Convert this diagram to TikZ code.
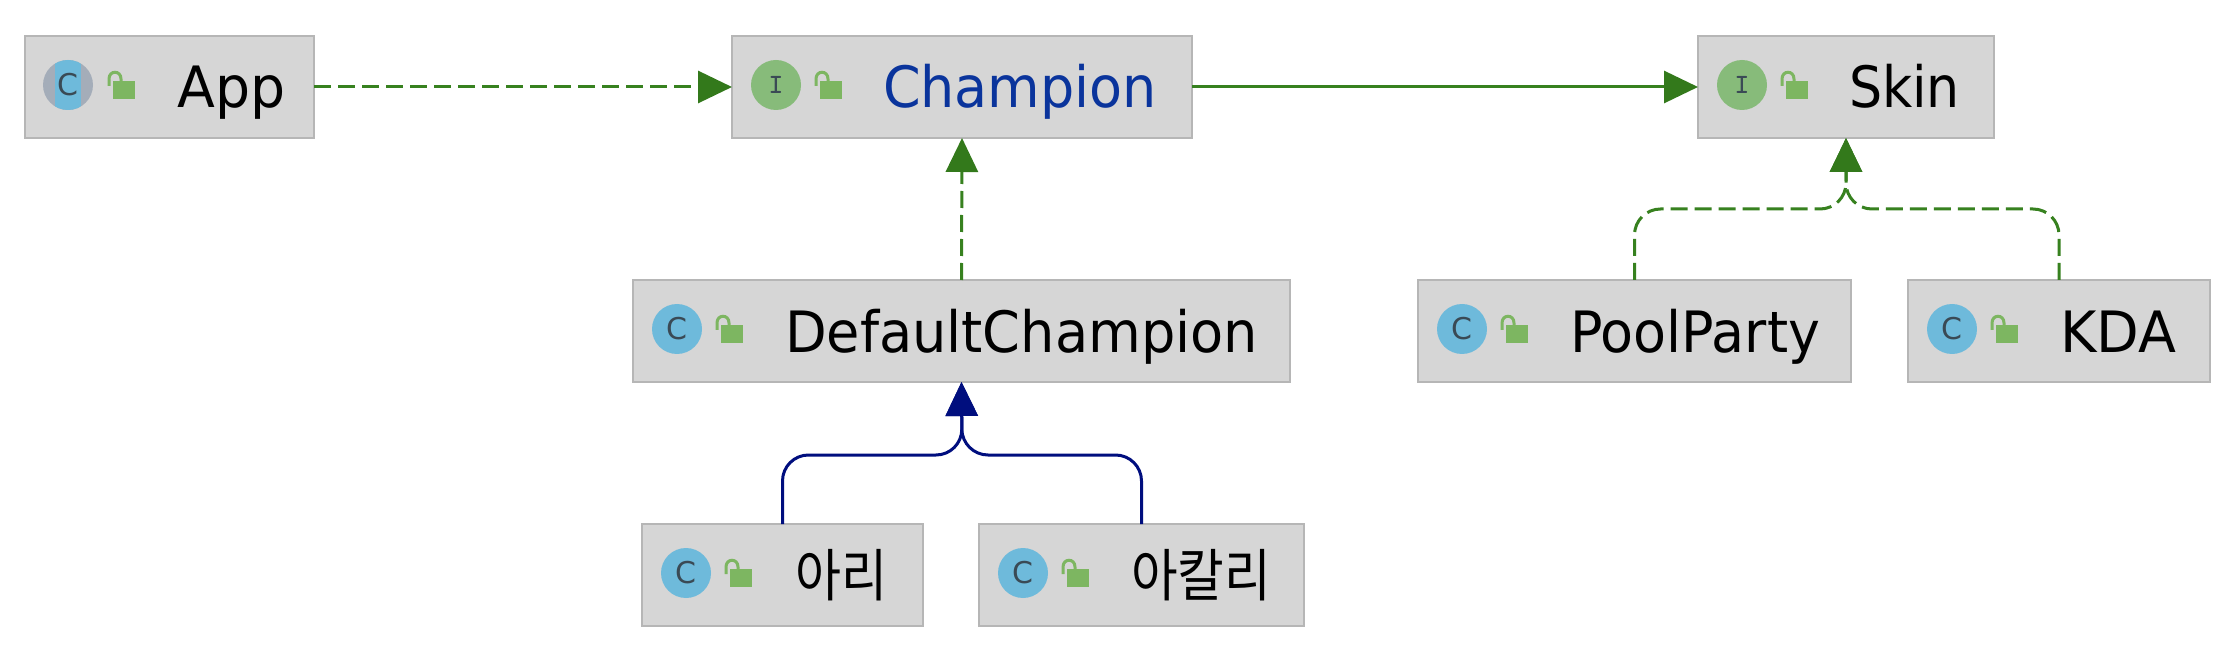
\documentclass[tikz,border=0pt]{standalone}
\usepackage{fontspec}
\setmainfont{DejaVu Sans}
\newfontfamily\krfont{Noto Sans CJK KR}
\usetikzlibrary{arrows.meta}
\definecolor{boxfill}{HTML}{D6D6D6}
\definecolor{boxline}{HTML}{B6B6B6}
\definecolor{greenline}{HTML}{37811F}
\definecolor{greentip}{HTML}{33791B}
\definecolor{bluetip}{HTML}{000E7E}
\definecolor{nameblue}{HTML}{0A349C}
\definecolor{classblue}{HTML}{6EBADB}
\definecolor{ifacegreen}{HTML}{87BB7A}
\definecolor{lockgreen}{HTML}{7DB661}
\definecolor{icongray}{HTML}{A4ADB9}
\definecolor{icontext}{HTML}{3A4A55}
\tikzset{
  umlbox/.style={draw=boxline,fill=boxfill,line width=1.4pt,inner sep=0pt,outer sep=0pt,
    anchor=north west,minimum height=51pt,text height=21pt,text depth=0pt,
    font=\fontsize{28.5}{30}\selectfont},
  iconbase/.style={circle,inner sep=0pt,minimum size=25pt,text=icontext},
  classicon/.style={iconbase,fill=classblue,font=\fontsize{15}{15}\selectfont},
  ifaceicon/.style={iconbase,fill=ifacegreen,font=\fontsize{14}{14}\ttfamily\bfseries},
  dep/.style={draw=greenline,line width=1.5pt,dash pattern=on 8.5pt off 3.5pt,
    -{Triangle[length=17pt,width=16pt,color=greentip]}},
  assoc/.style={draw=greenline,line width=1.5pt,
    -{Triangle[length=17pt,width=16pt,color=greentip]}},
  inherit/.style={draw=bluetip,line width=1.5pt,
    -{Triangle[length=17pt,width=16pt,color=bluetip]}},
}
% name, left, top, right, text start offset (pt), label
\newcommand{\umlnode}[6]{%
  \node[umlbox,minimum width={(#4-#2)*0.5pt}] (#1) at (#2,#3)
    {\makebox[\dimexpr(#4pt-#2pt)/2\relax][l]{\hspace*{#5pt}#6}};
}
\newcommand{\lockon}[1]{%
  \begin{scope}[shift={(#1.west)}]
    \fill[lockgreen] (88,-6) rectangle (110,12);
    \draw[lockgreen,line width=1.5pt] (84,-1) -- (84,-8) .. controls (84,-17) and (96,-17) .. (96,-8) -- (96,-5);
  \end{scope}%
}
\newcommand{\fit}[2]{\resizebox{#1pt}{\height}{#2}}
\begin{document}
\begin{tikzpicture}[x=0.5pt,y=-0.5pt]
\useasboundingbox[fill=white] (0,0) rectangle (2228,652);

\umlnode{app}{25}{36}{314}{76.5}{\fit{54}{App}}
\umlnode{champion}{732}{36}{1192}{75.5}{\fit{137}{\textcolor{nameblue}{Champion}}}
\umlnode{skin}{1698}{36}{1994}{75.5}{\fit{55.5}{Skin}}
\umlnode{defaultc}{633}{280}{1290}{76}{\fit{236.5}{DefaultChampion}}
\umlnode{poolparty}{1418}{280}{1851}{76}{\fit{125}{PoolParty}}
\umlnode{kda}{1908}{280}{2210}{76}{\fit{58}{KDA}}
\umlnode{ari}{642}{524}{923}{76.5}{\fit{46}{\krfont 아리}}
\umlnode{akali}{979}{524}{1304}{76}{\fit{70}{\krfont 아칼리}}

% icons
\node[iconbase,fill=icongray] (appring) at ([xshift=21.5pt,yshift=1pt]app.west) {};
\begin{scope}
  \clip (appring.center) circle (12.5pt);
  \fill[classblue] ([xshift=-6.5pt,yshift=-13pt]appring.center) rectangle ([xshift=6.5pt,yshift=13pt]appring.center);
\end{scope}
\node[text=icontext,font=\fontsize{15}{15}\selectfont] (appicon) at (appring) {C};
\node[ifaceicon] (championicon) at ([xshift=22pt,yshift=1pt]champion.west) {I};
\node[ifaceicon] (skinicon) at ([xshift=22pt,yshift=1pt]skin.west) {I};
\node[classicon] (defaulticon) at ([xshift=22pt,yshift=1pt]defaultc.west) {C};
\node[classicon] (poolicon) at ([xshift=22pt,yshift=1pt]poolparty.west) {C};
\node[classicon] (kdaicon) at ([xshift=22pt,yshift=1pt]kda.west) {C};
\node[classicon] (ariicon) at ([xshift=22pt,yshift=1pt]ari.west) {C};
\node[classicon] (akaliicon) at ([xshift=22pt,yshift=1pt]akali.west) {C};
\lockon{app}\lockon{champion}\lockon{skin}\lockon{defaultc}
\lockon{poolparty}\lockon{kda}\lockon{ari}\lockon{akali}

% connectors
\coordinate (busblue) at (962,455);
\coordinate (busgreen) at (1846,209);
\draw[dep] (app.east) -- (champion.west);
\draw[assoc] (champion.east) -- (skin.west);
\draw[dep] (defaultc.north) -- (champion.south);
\draw[inherit,rounded corners=13pt] (ari.north) |- (busblue) -- (defaultc.south);
\draw[inherit,rounded corners=13pt] (akali.north) |- (busblue) -- (defaultc.south);
\draw[dep,rounded corners=13pt] (poolparty.north) |- (busgreen) -- (skin.south);
\draw[dep,rounded corners=13pt] (kda.north) |- (busgreen) -- (skin.south);
\end{tikzpicture}
\end{document}
